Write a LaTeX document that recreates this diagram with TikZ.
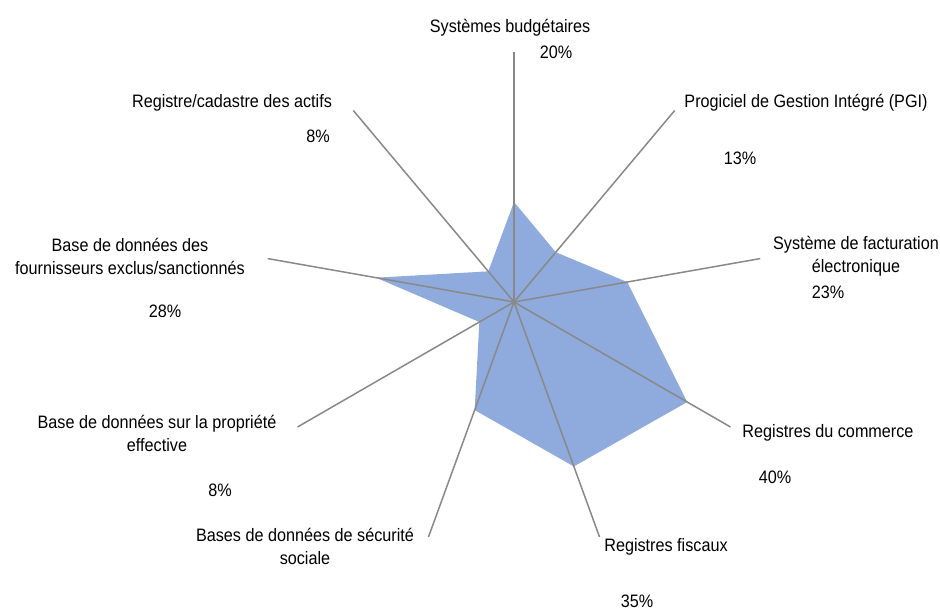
\documentclass[tikz,border=0pt]{standalone}
\usepackage{fontspec}
\setmainfont{Liberation Sans}[FakeStretch=0.9]
\usetikzlibrary{calc}
\definecolor{fillblue}{HTML}{8FAADC}
\definecolor{axisgray}{HTML}{898989}
\begin{document}
\begin{tikzpicture}[x=1pt,y=-1pt,
  lbl/.style={inner sep=0pt,align=center,font=\fontsize{18}{23}\selectfont,text=black},
  axisline/.style={draw=axisgray,line width=1.5pt},
  area/.style={fill=fillblue,draw=none}]
\useasboundingbox[fill=white] (0,0) rectangle (940,611);
\coordinate (c) at (514,302);
% axis end points (radius 250 = 50%)
\foreach \n/\a in {1/-90,2/-50,3/-10,4/30,5/70,6/110,7/150,8/190,9/230}{
  \coordinate (e\n) at ($(c)+(\a:250)$);
}
% data vertices (5 px per %)
\foreach \n/\a/\v in {1/-90/20,2/-50/13,3/-10/23,4/30/40,5/70/35,6/110/23,7/150/8,8/190/28,9/230/8}{
  \coordinate (p\n) at ($(c)+(\a:{5*\v})$);
}
\path[area] (p1) -- (p2) -- (p3) -- (p4) -- (p5) -- (p6) -- (p7) -- (p8) -- (p9) -- cycle;
\foreach \n in {1,...,9}{ \draw[axisline] (c) -- (e\n); }
% labels
\node[lbl] (l1) at (510,28) {Systèmes budgétaires};
\node[lbl] (v1) at (556,52) {20\%};
\node[lbl] (l2) at (806,103) {Progiciel de Gestion Intégré (PGI)};
\node[lbl] (v2) at (740,158) {13\%};
\node[lbl] (l3) at (856,256.5) {Système de facturation\\électronique};
\node[lbl] (v3) at (828,292) {23\%};
\node[lbl] (l4) at (828,433) {Registres du commerce};
\node[lbl] (v4) at (775,477) {40\%};
\node[lbl] (l5) at (666,547) {Registres fiscaux};
\node[lbl] (v5) at (637,601) {35\%};
\node[lbl] (l6) at (305,546.5) {Bases de données de sécurité\\sociale};
\node[lbl] (l7) at (157,433.5) {Base de données sur la propriété\\effective};
\node[lbl] (v7) at (220,490) {8\%};
\node[lbl] (l8) at (130,256.5) {Base de données des\\fournisseurs exclus/sanctionnés};
\node[lbl] (v8) at (165,311) {28\%};
\node[lbl] (l9) at (232,103) {Registre/cadastre des actifs};
\node[lbl] (v9) at (318,136) {8\%};
\end{tikzpicture}
\end{document}
